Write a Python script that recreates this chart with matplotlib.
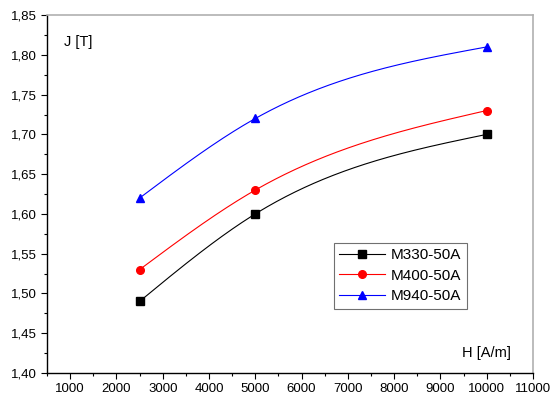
import numpy as np
import matplotlib
matplotlib.use('Agg')
import matplotlib.pyplot as plt
from matplotlib.ticker import MultipleLocator, FuncFormatter

plt.rcParams['font.family'] = ['Liberation Sans', 'DejaVu Sans']

H = [2500, 5000, 10000]
m330 = [1.49, 1.60, 1.70]
m400 = [1.53, 1.63, 1.73]
m940 = [1.62, 1.72, 1.81]

series = [('M330-50A', m330, 'black', 's'),
          ('M400-50A', m400, 'red', 'o'),
          ('M940-50A', m940, 'blue', '^')]


def natural_spline(x, y, xs):
    # natural cubic spline through 3 points
    x = np.asarray(x, float)
    y = np.asarray(y, float)
    h = np.diff(x)
    M = np.zeros(3)
    M[1] = 3 * ((y[2] - y[1]) / h[1] - (y[1] - y[0]) / h[0]) / (h[0] + h[1])
    out = np.empty_like(xs)
    for k, v in enumerate(xs):
        i = 0 if v <= x[1] else 1
        a, b = x[i + 1] - v, v - x[i]
        out[k] = (M[i] * a**3 + M[i + 1] * b**3) / (6 * h[i]) \
            + (y[i] / h[i] - M[i] * h[i] / 6) * a \
            + (y[i + 1] / h[i] - M[i + 1] * h[i] / 6) * b
    return out


fig = plt.figure(figsize=(5.54, 3.98), dpi=100)
ax = fig.add_axes([0.085, 0.063, 0.877, 0.899])

xs = np.linspace(H[0], H[-1], 300)
for name, y, c, m in series:
    ax.plot(xs, natural_spline(H, y, xs), color=c, lw=0.8)
    ax.plot(H, y, color=c, marker=m, ms=5.5, linestyle='none')
    ax.plot([], [], color=c, lw=0.8, marker=m, ms=5.5, label=name)

ax.set_xlim(500, 11000)
ax.set_ylim(1.40, 1.85)
ax.xaxis.set_major_locator(MultipleLocator(1000))
ax.xaxis.set_minor_locator(MultipleLocator(500))
ax.yaxis.set_major_locator(MultipleLocator(0.05))
ax.yaxis.set_minor_locator(MultipleLocator(0.025))
ax.yaxis.set_major_formatter(FuncFormatter(lambda v, p: '{:.2f}'.format(v).replace('.', ',')))
ax.xaxis.set_major_formatter(FuncFormatter(lambda v, p: '' if v < 1000 else '{:d}'.format(int(round(v)))))
ax.tick_params(direction='out', labelsize=9.5, length=4, width=0.8)
ax.tick_params(which='minor', direction='out', length=2.5, width=0.8)
for s in ['top', 'right']:
    ax.spines[s].set_color('#b0b0b0')
    ax.spines[s].set_linewidth(1.2)
for s in ['left', 'bottom']:
    ax.spines[s].set_linewidth(1.0)

ax.text(0.035, 0.925, 'J [T]', transform=ax.transAxes, fontsize=10.5, va='center')
ax.text(0.955, 0.055, 'H [A/m]', transform=ax.transAxes, fontsize=10.5, ha='right', va='center')

leg = ax.legend(loc='lower left', bbox_to_anchor=(0.59, 0.18), fontsize=11,
                fancybox=False, framealpha=1, edgecolor='#707070',
                borderpad=0.35, labelspacing=0.42, handlelength=3, handletextpad=0.4,
                borderaxespad=0)
leg.get_frame().set_linewidth(0.8)

fig.savefig('out.png', dpi=100)
